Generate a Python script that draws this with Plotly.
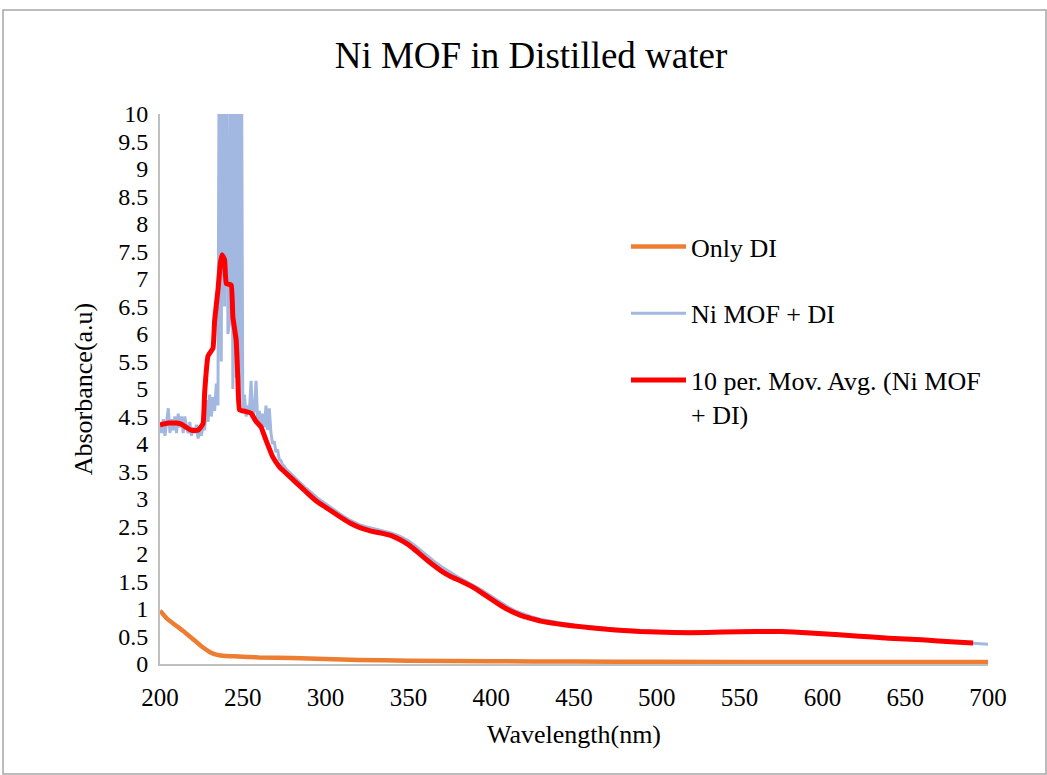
import plotly.graph_objects as go

# ---------------- data ----------------
title_text = "Ni MOF in Distilled water"

only_di_nm = [200, 202, 204, 207, 210, 214, 218, 222, 226, 230, 234, 238, 245, 260, 280,
              300, 320, 350, 400, 450, 500, 600, 700]
only_di_abs = [0.97, 0.90, 0.83, 0.76, 0.69, 0.60, 0.50, 0.40, 0.30, 0.22, 0.17, 0.15, 0.14,
               0.12, 0.11, 0.09, 0.075, 0.06, 0.05, 0.045, 0.04, 0.035, 0.035]

nimof_nm = list(range(200, 291)) + list(range(295, 701, 5))
nimof_abs = [
    4.35, 4.20, 4.45, 4.15, 4.40, 4.65, 4.20, 4.45, 4.25, 4.50,   # 200-209
    4.20, 4.55, 4.30, 4.50, 4.20, 4.50, 4.30, 4.20, 4.40, 4.15,   # 210-219
    4.30, 4.20, 4.35, 4.10, 4.25, 4.15, 4.35, 4.25, 4.80, 4.40,   # 220-229
    4.90, 4.50, 4.85, 4.60, 5.10, 4.70, 14.0, 5.50, 16.0, 6.50,   # 230-239
    15.0, 6.00, 6.20, 14.0, 5.00, 15.0, 5.20, 16.0, 4.80, 13.0,   # 240-249
    4.60, 4.90, 4.50, 4.70, 4.60, 5.15, 4.50, 4.60, 5.15, 4.40,   # 250-259
    4.60, 4.35, 4.55, 4.30, 4.70, 4.25, 4.65, 4.20, 4.00, 4.05,   # 260-269
    3.85, 3.90, 3.72, 3.70, 3.62, 3.60, 3.55, 3.52, 3.50, 3.46,   # 270-279
    3.44, 3.40, 3.38, 3.34, 3.31, 3.29, 3.26, 3.23, 3.20, 3.18,   # 280-289
    3.15,                                                         # 290
    3.02, 2.91, 2.80, 2.70, 2.61, 2.54, 2.49, 2.45, 2.42, 2.38,   # 295-340
    2.32, 2.24, 2.13, 2.00, 1.88, 1.77, 1.67, 1.58, 1.50, 1.42,   # 345-390
    1.33, 1.23, 1.13, 1.04, 0.96, 0.90, 0.85, 0.81, 0.78, 0.75,   # 395-440
    0.73, 0.71, 0.69, 0.67, 0.66, 0.64, 0.63, 0.62, 0.61, 0.60,   # 445-490
    0.59, 0.59, 0.58, 0.58, 0.58, 0.58, 0.58, 0.58, 0.58, 0.59,   # 495-540
    0.59, 0.59, 0.60, 0.60, 0.60, 0.60, 0.60, 0.59, 0.59, 0.58,   # 545-590
    0.57, 0.56, 0.55, 0.54, 0.53, 0.52, 0.51, 0.50, 0.49, 0.48,   # 595-640
    0.47, 0.46, 0.45, 0.44, 0.43, 0.42, 0.41, 0.40, 0.39, 0.38,   # 645-690
    0.37, 0.36,                                                   # 695-700
]

movavg_nm = [200, 205, 210, 213, 216, 219, 223, 226, 227, 229, 232, 233, 235, 236.5, 237.5,
             239, 240, 243, 244, 246, 247, 248, 252, 255, 258, 261, 264, 268, 272, 275,
             280, 285, 290, 295, 300, 305, 310, 315, 320, 325, 330, 335, 340, 345, 350,
             355, 360, 365, 370, 375, 380, 385, 390, 395, 400, 405, 410, 415, 420, 425,
             430, 440, 450, 460, 470, 480, 490, 500, 520, 540, 560, 575, 590, 600, 620,
             640, 660, 680, 691]
movavg_abs = [4.35, 4.38, 4.38, 4.36, 4.30, 4.25, 4.25, 4.37, 4.95, 5.60, 5.74, 6.25, 6.80, 7.30, 7.44,
              7.35, 6.92, 6.89, 6.31, 5.89, 5.20, 4.62, 4.59, 4.56, 4.41, 4.31, 4.07, 3.77, 3.59, 3.50,
              3.36, 3.22, 3.08, 2.95, 2.85, 2.75, 2.65, 2.56, 2.49, 2.44, 2.40, 2.37, 2.33, 2.26, 2.17,
              2.05, 1.92, 1.80, 1.69, 1.60, 1.53, 1.46, 1.38, 1.28, 1.18, 1.08, 0.99, 0.92, 0.86, 0.82,
              0.78, 0.73, 0.69, 0.66, 0.63, 0.61, 0.59, 0.58, 0.57, 0.58, 0.59, 0.59, 0.57, 0.55, 0.51,
              0.47, 0.44, 0.40, 0.38]

x_ticks = [200, 250, 300, 350, 400, 450, 500, 550, 600, 650, 700]
y_ticks = [0, 0.5, 1, 1.5, 2, 2.5, 3, 3.5, 4, 4.5, 5, 5.5, 6, 6.5, 7, 7.5, 8, 8.5, 9, 9.5, 10]

# ---------------- figure ----------------
FONT = "Liberation Serif"
W, H = 1047, 775
ML, MR, MT, MB = 160, 59, 114, 111
pw, ph = W - ML - MR, H - MT - MB

fig = go.Figure()
fig.add_trace(go.Scatter(x=only_di_nm, y=only_di_abs, mode="lines", name="Only DI",
                         line=dict(color="#ED7D31", width=4.5, shape="spline", smoothing=0.6),
                         legendgroup="a"))
fig.add_trace(go.Scatter(x=nimof_nm, y=nimof_abs, mode="lines", name="Ni MOF + DI",
                         line=dict(color="#A2B8E0", width=3), legendgroup="b"))
fig.add_trace(go.Scatter(x=movavg_nm, y=movavg_abs, mode="lines",
                         name="10 per. Mov. Avg. (Ni MOF<br>+ DI)",
                         line=dict(color="#FF0000", width=5, shape="spline", smoothing=0.3),
                         legendgroup="c"))

# outer chart border
fig.add_shape(type="rect", xref="paper", yref="paper",
              x0=(3 - ML) / pw, x1=(1046 - ML) / pw,
              y0=(MT + ph - 774) / ph, y1=(MT + ph - 10) / ph,
              line=dict(color="#A6A6A6", width=1.5), fillcolor="rgba(0,0,0,0)", layer="below")

fig.update_layout(
    width=W, height=H,
    margin=dict(l=ML, r=MR, t=MT, b=MB),
    paper_bgcolor="white", plot_bgcolor="white",
    font=dict(family=FONT, color="black", size=24),
    title=dict(text=title_text, x=531 / W, xanchor="center", y=1 - 55 / H, yanchor="middle",
               font=dict(family=FONT, size=37, color="black")),
    legend=dict(x=(626 - ML) / pw, y=(MT + ph - 223) / ph, xanchor="left", yanchor="top",
                bgcolor="rgba(0,0,0,0)", font=dict(family=FONT, size=26, color="black"),
                tracegroupgap=30, traceorder="grouped", itemwidth=55, valign="top"),
    xaxis=dict(range=[200, 700], tickvals=x_ticks, showgrid=False, zeroline=False,
               showline=True, linecolor="#BFBFBF", linewidth=2, ticks="",
               ticklabelstandoff=10, tickfont=dict(family=FONT, size=25),
               title=dict(text="Wavelength(nm)", font=dict(family=FONT, size=26), standoff=15)),
    yaxis=dict(range=[0, 10], tickvals=y_ticks, showgrid=False, zeroline=False,
               showline=True, linecolor="#BFBFBF", linewidth=2, ticks="",
               ticklabelstandoff=5, tickfont=dict(family=FONT, size=24),
               title=dict(text="Absorbance(a.u)", font=dict(family=FONT, size=26), standoff=18)),
)

fig.write_html("out.html")
